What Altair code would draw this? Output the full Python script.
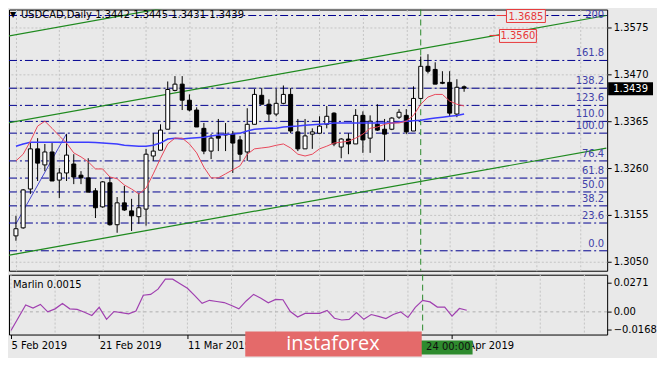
import altair as alt
import pandas as pd

# ---------------- data ----------------
opens = [1.3108,1.3126,1.3213,1.3303,1.3267,1.3296,1.3233,1.3249,1.3269,1.3244,
         1.3238,1.3209,1.3173,1.3227,1.3133,1.3182,1.3164,1.3151,1.3168,1.3287,
         1.3300,1.3347,1.3434,1.3448,1.3412,1.3390,1.3349,1.3298,1.3332,1.3336,
         1.3336,1.3323,1.3296,1.3358,1.3423,1.3403,1.3381,1.3405,1.3425,1.3341,
         1.3303,1.3336,1.3338,1.3358,1.3383,1.3307,1.3325,1.3314,1.3378,1.3327,
         1.3358,1.3347,1.3347,1.3374,1.3378,1.3343,1.3416,1.3488,1.3481,1.3452,
         1.3452,1.3381,1.3442]
highs = [1.3153,1.3213,1.3316,1.3327,1.3314,1.3316,1.3260,1.3336,1.3291,1.3253,
         1.3282,1.3215,1.3231,1.3240,1.3195,1.3220,1.3191,1.3204,1.3303,1.3338,
         1.3358,1.3454,1.3466,1.3466,1.3425,1.3396,1.3361,1.3336,1.3370,1.3361,
         1.3343,1.3332,1.3394,1.3437,1.3439,1.3414,1.3437,1.3445,1.3439,1.3370,
         1.3370,1.3349,1.3376,1.3399,1.3385,1.3327,1.3338,1.3392,1.3387,1.3378,
         1.3403,1.3370,1.3374,1.3392,1.3392,1.3443,1.3510,1.3515,1.3497,1.3477,
         1.3477,1.3459,1.3445]
lows = [1.3097,1.3124,1.3202,1.3231,1.3253,1.3231,1.3193,1.3231,1.3224,1.3224,
        1.3206,1.3148,1.3171,1.3131,1.3115,1.3164,1.3119,1.3135,1.3131,1.3276,
        1.3300,1.3347,1.3432,1.3390,1.3387,1.3352,1.3291,1.3280,1.3298,1.3298,
        1.3249,1.3276,1.3276,1.3358,1.3403,1.3365,1.3376,1.3403,1.3338,1.3298,
        1.3303,1.3303,1.3338,1.3349,1.3309,1.3282,1.3291,1.3314,1.3294,1.3294,
        1.3343,1.3276,1.3345,1.3370,1.3336,1.3343,1.3414,1.3472,1.3448,1.3448,
        1.3376,1.3374,1.3431]
closes = [1.3124,1.3211,1.3303,1.3271,1.3296,1.3231,1.3249,1.3289,1.3240,1.3238,
          1.3206,1.3171,1.3229,1.3133,1.3182,1.3166,1.3153,1.3171,1.3291,1.3298,
          1.3345,1.3436,1.3448,1.3412,1.3390,1.3352,1.3298,1.3327,1.3327,1.3334,
          1.3316,1.3291,1.3358,1.3425,1.3403,1.3381,1.3405,1.3425,1.3343,1.3303,
          1.3332,1.3341,1.3354,1.3376,1.3314,1.3325,1.3314,1.3378,1.3323,1.3365,
          1.3345,1.3336,1.3372,1.3385,1.3341,1.3416,1.3488,1.3477,1.3448,1.3450,
          1.3383,1.3441,1.3439]
ma_fast = [1.3276,1.3291,1.3320,1.3354,1.3365,1.3349,1.3332,1.3316,1.3294,1.3285,
           1.3274,1.3258,1.3258,1.3240,1.3236,1.3222,1.3213,1.3202,1.3215,1.3247,
           1.3282,1.3314,1.3327,1.3327,1.3314,1.3294,1.3262,1.3238,1.3238,1.3247,
           1.3256,1.3265,1.3291,1.3303,1.3305,1.3307,1.3311,1.3314,1.3305,1.3291,
           1.3287,1.3291,1.3303,1.3309,1.3316,1.3318,1.3320,1.3327,1.3336,1.3349,
           1.3352,1.3358,1.3361,1.3361,1.3365,1.3378,1.3403,1.3419,1.3425,1.3425,
           1.3410,1.3403,1.3399]
ma_slow = [1.3309,1.3314,1.3318,1.3318,1.3318,1.3318,1.3318,1.3318,1.3318,1.3318,
           1.3318,1.3317,1.3316,1.3315,1.3314,1.3311,1.3310,1.3309,1.3309,1.3311,
           1.3316,1.3325,1.3327,1.3325,1.3327,1.3328,1.3329,1.3332,1.3334,1.3335,
           1.3336,1.3338,1.3343,1.3347,1.3348,1.3349,1.3349,1.3352,1.3353,1.3354,
           1.3356,1.3357,1.3358,1.3359,1.3361,1.3361,1.3361,1.3361,1.3361,1.3361,
           1.3361,1.3361,1.3361,1.3363,1.3365,1.3366,1.3367,1.3370,1.3372,1.3374,
           1.3376,1.3378,1.3381]
marlin = [-0.0175,-0.0055,0.0065,0.0036,0.0070,0.0000,0.0028,0.0079,0.0028,0.0023,
          -0.0004,-0.0034,0.0042,-0.0070,0.0003,-0.0008,-0.0019,0.0008,0.0155,0.0163,
          0.0212,0.0305,0.0305,0.0262,0.0220,0.0152,0.0079,0.0108,0.0097,0.0087,
          0.0059,0.0028,0.0102,0.0163,0.0127,0.0085,0.0116,0.0113,0.0003,-0.0048,
          -0.0014,-0.0014,-0.0014,0.0014,-0.0060,-0.0076,-0.0070,-0.0006,-0.0070,-0.0025,
          -0.0042,-0.0062,-0.0025,0.0000,-0.0053,0.0042,0.0108,0.0093,0.0045,0.0045,
          -0.0040,0.0031,0.0015]

price_ticks = [1.3050, 1.3155, 1.3260, 1.3365, 1.3470, 1.3575]
marlin_ticks = [0.0271, 0.0, -0.0168]
fib_levels = [0.0, 23.6, 38.2, 50.0, 61.8, 76.4, 100.0, 110.0, 123.6, 138.2, 161.8, 200.0]
fib_texts = ["0.0", "23.6", "38.2", "50.0", "61.8", "76.4", "100.0", "110.0", "123.6", "138.2", "161.8", "200"]
fib_low, fib_high = 1.30746, 1.33382
# date ticks every 12 bars; the ones at 36 and 48 sit under the watermark in the reference
date_idx = [0, 12, 24, 60]
date_labels = ["5 Feb 2019", "21 Feb 2019", "11 Mar 2019", "30 Apr 2019"]
grid_idx = list(range(0, 84, 6))
chan_idx = [-1.357, 81.68]
chan_upper = [1.33606, 1.36018]
chan_lower = [1.30634, 1.33047]
chan_top_idx = [-1.357, 30.0]
chan_top = [1.35549, 1.36460]
trend_idx = [0, 7]
trend_price = [1.3135, 1.3337]
vline_idx = 56
last_price = 1.3439
label_prices = ["1.3685", "1.3560"]
title_text = "USDCAD,Daily  1.3442 1.3445 1.3431 1.3439"
marlin_title = "Marlin 0.0015"
vline_text = "24 00:00"

# ---------------- frames ----------------
idx = list(range(len(opens)))
candles = pd.DataFrame({"i": idx, "open": opens, "high": highs, "low": lows, "close": closes})
mas = pd.DataFrame({"i": idx, "fast": ma_fast, "slow": ma_slow, "marlin": marlin})
fib = pd.DataFrame({"lvl": fib_levels, "label": fib_texts})
fib["price"] = fib_low + fib["lvl"] / 100.0 * (fib_high - fib_low)
fib_mid = fib[fib["lvl"] < 200]
fib_top = fib[fib["lvl"] >= 200]
chan = pd.DataFrame({
    "line": ["A", "A", "C", "C", "B", "B"],
    "i": chan_idx + chan_idx + chan_top_idx,
    "p": chan_upper + chan_lower + chan_top,
})
trend = pd.DataFrame({"i": trend_idx, "p": trend_price})
one = pd.DataFrame({"a": [0]})

W, H1, H2 = 600, 262, 60
XS = alt.Scale(domain=[-0.27, 81.1], nice=False, zero=False)
YS = alt.Scale(domain=[1.30299, 1.36152], nice=False, zero=False)
MS = alt.Scale(domain=[-0.0212, 0.0347], nice=False, zero=False)
FONT = "DejaVu Sans"

label_expr = "".join(f"datum.value == {v} ? '{t}' : " for v, t in zip(date_idx, date_labels)) + "''"
marlin_expr = "datum.value == 0 ? '0.00' : format(datum.value, '.4f')"

AX_MAIN_X = alt.Axis(orient="bottom", values=grid_idx, labels=False, ticks=False, domain=False,
                     grid=True, gridColor="#c4c4c4", gridDash=[2, 2], title=None)
AX_PRICE = alt.Axis(orient="right", values=price_ticks, format=".4f", tickSize=4, labelPadding=2,
                    grid=True, gridColor="#c4c4c4", gridDash=[2, 2], title=None, domain=False,
                    labelOverlap=False, labelFlush=False)
AX_DATE = alt.Axis(orient="bottom", values=date_idx, labelExpr=label_expr, labelAlign="left",
                   tickSize=4, labelPadding=2, grid=False, title=None, domain=False,
                   labelOverlap=False, labelFlush=False, labelBound=False)
AX_MARLIN = alt.Axis(orient="right", values=marlin_ticks, labelExpr=marlin_expr, tickSize=4,
                     labelPadding=2, grid=False, title=None, domain=False,
                     labelOverlap=False, labelFlush=False)


def X(f="i"):
    return alt.X(f"{f}:Q", scale=XS, axis=AX_MAIN_X, title=None)


def Y(f):
    return alt.Y(f"{f}:Q", scale=YS, axis=AX_PRICE, title=None)


def XI(f="i"):
    return alt.X(f"{f}:Q", scale=XS, axis=AX_DATE, title=None)


def YI(f):
    return alt.Y(f"{f}:Q", scale=MS, axis=AX_MARLIN, title=None)


# ---------------- main panel ----------------
fib_rules = alt.Chart(fib).mark_rule(color="#000090", strokeDash=[8, 3, 2, 3], strokeWidth=1).encode(
    y=Y("price"))
fib_labels = alt.Chart(fib_mid).mark_text(align="right", baseline="middle", dy=-7, font=FONT,
                                          fontSize=10, color="#4040a8").encode(
    x=alt.value(W - 3), y=Y("price"), text="label:N")
fib_label_top = alt.Chart(fib_top).mark_text(align="right", baseline="middle", dy=-1, font=FONT,
                                             fontSize=10, color="#4040a8").encode(
    x=alt.value(W - 3), y=Y("price"), text="label:N")

price_line = alt.Chart(pd.DataFrame({"p": [last_price]})).mark_rule(color="#b8b8b8", strokeWidth=1).encode(
    y=Y("p"))

channels = alt.Chart(chan).mark_line(color="#1f8a1f", strokeWidth=1.2, clip=True).encode(
    x=X(), y=Y("p"), detail="line:N")
trendline = alt.Chart(trend).mark_line(color="#4848d0", strokeWidth=1, clip=True).encode(
    x=X(), y=Y("p"))

vline_main = alt.Chart(pd.DataFrame({"i": [vline_idx]})).mark_rule(
    color="#2a8a2a", strokeDash=[6, 4], strokeWidth=1).encode(x=X())

wicks = alt.Chart(candles).mark_rule(color="black", strokeWidth=1).encode(
    x=X(), y=Y("low"), y2="high:Q")
bodies = alt.Chart(candles).mark_bar(size=4, stroke="black", strokeWidth=1).encode(
    x=X(), y=Y("open"), y2="close:Q",
    fill=alt.condition("datum.close >= datum.open", alt.value("white"), alt.value("black")))

slow_line = alt.Chart(mas).mark_line(color="#3c3cff", strokeWidth=1.5).encode(x=X(), y=Y("slow"))
fast_line = alt.Chart(mas).mark_line(color="#e8475a", strokeWidth=1).encode(x=X(), y=Y("fast"))

tri = alt.Chart(one).mark_text(align="left", baseline="middle", font=FONT, fontSize=8,
                               color="black").encode(
    x=alt.value(1), y=alt.value(5), text=alt.value("▼"))
title = alt.Chart(one).mark_text(align="left", baseline="middle", font=FONT, fontSize=10,
                                 color="black").encode(
    x=alt.value(12), y=alt.value(5), text=alt.value(title_text))

lab1_line = alt.Chart(one).mark_rule(color="#e8383a").encode(
    x=alt.value(489), x2=alt.value(499), y=alt.value(6))
lab1_box = alt.Chart(one).mark_rect(fill="#ececec", stroke="#e8383a", strokeWidth=1).encode(
    x=alt.value(499), x2=alt.value(538), y=alt.value(0), y2=alt.value(13))
lab1_txt = alt.Chart(one).mark_text(align="center", baseline="middle", font=FONT, fontSize=10,
                                    color="#e8383a").encode(
    x=alt.value(518.5), y=alt.value(7), text=alt.value(label_prices[0]))
lab2_line = alt.Chart(one).mark_rule(color="#e8383a").encode(
    x=alt.value(482), x2=alt.value(492), y=alt.value(26))
lab2_box = alt.Chart(one).mark_rect(fill="#ececec", stroke="#e8383a", strokeWidth=1).encode(
    x=alt.value(492), x2=alt.value(529), y=alt.value(20), y2=alt.value(33))
lab2_txt = alt.Chart(one).mark_text(align="center", baseline="middle", font=FONT, fontSize=10,
                                    color="#e8383a").encode(
    x=alt.value(510.5), y=alt.value(27), text=alt.value(label_prices[1]))

cp_box = alt.Chart(one).mark_rect(fill="black").encode(
    x=alt.value(W + 1), x2=alt.value(W + 46), y=alt.value(73), y2=alt.value(86))
cp_txt = alt.Chart(one).mark_text(align="left", baseline="middle", font=FONT, fontSize=10,
                                  color="white").encode(
    x=alt.value(W + 6), y=alt.value(80), text=alt.value(f"{last_price:.4f}"))

main = alt.layer(
    price_line, fib_rules, channels, trendline, vline_main,
    wicks, bodies, slow_line, fast_line, fib_labels, fib_label_top, tri, title,
    lab1_line, lab1_box, lab1_txt, lab2_line, lab2_box, lab2_txt, cp_box, cp_txt
).properties(width=W, height=H1)

# ---------------- indicator panel ----------------
vgrid2 = alt.Chart(pd.DataFrame({"g": grid_idx})).mark_rule(
    color="#c4c4c4", strokeDash=[2, 2], strokeWidth=1).encode(x=XI("g"))
zero = alt.Chart(pd.DataFrame({"v": [0.0]})).mark_rule(
    color="#b0b0b0", strokeDash=[3, 3], strokeWidth=1).encode(y=YI("v"))
vline_ind = alt.Chart(pd.DataFrame({"i": [vline_idx]})).mark_rule(
    color="#2a8a2a", strokeDash=[6, 4], strokeWidth=1).encode(x=XI())
mline = alt.Chart(mas).mark_line(color="#a040b0", strokeWidth=1.2).encode(
    x=XI(), y=YI("marlin"))
mtitle = alt.Chart(one).mark_text(align="left", baseline="middle", font=FONT, fontSize=10,
                                  color="black").encode(
    x=alt.value(4), y=alt.value(10), text=alt.value(marlin_title))

date_box = alt.Chart(one).mark_rect(fill="#2e8b2e").encode(
    x=alt.value(406), x2=alt.value(465), y=alt.value(H2 + 6), y2=alt.value(H2 + 20))
date_txt = alt.Chart(one).mark_text(align="right", baseline="middle", font=FONT, fontSize=10,
                                    color="#101010").encode(
    x=alt.value(463), y=alt.value(H2 + 13), text=alt.value(vline_text))
wm_box = alt.Chart(one).mark_rect(fill="#e46a6a").encode(
    x=alt.value(237), x2=alt.value(414), y=alt.value(H2 - 3), y2=alt.value(H2 + 22))
wm_txt = alt.Chart(one).mark_text(align="center", baseline="middle", font="Open Sans",
                                  fontSize=20, color="white").encode(
    x=alt.value(325), y=alt.value(H2 + 10), text=alt.value("instaforex"))

ind = alt.layer(
    vgrid2, zero, vline_ind, mline, mtitle, date_box, date_txt, wm_box, wm_txt
).properties(width=W, height=H2)

chart = alt.vconcat(main, ind, spacing=2).properties(
    padding={"left": 0, "top": 0, "right": 0, "bottom": 0},
    background="#e9e9e9",
).configure_view(stroke="black", strokeWidth=1).configure_axis(
    labelFont=FONT, labelFontSize=10, labelColor="black", tickColor="black"
)

chart.save("out.html", embed_options={"renderer": "svg", "actions": False})
